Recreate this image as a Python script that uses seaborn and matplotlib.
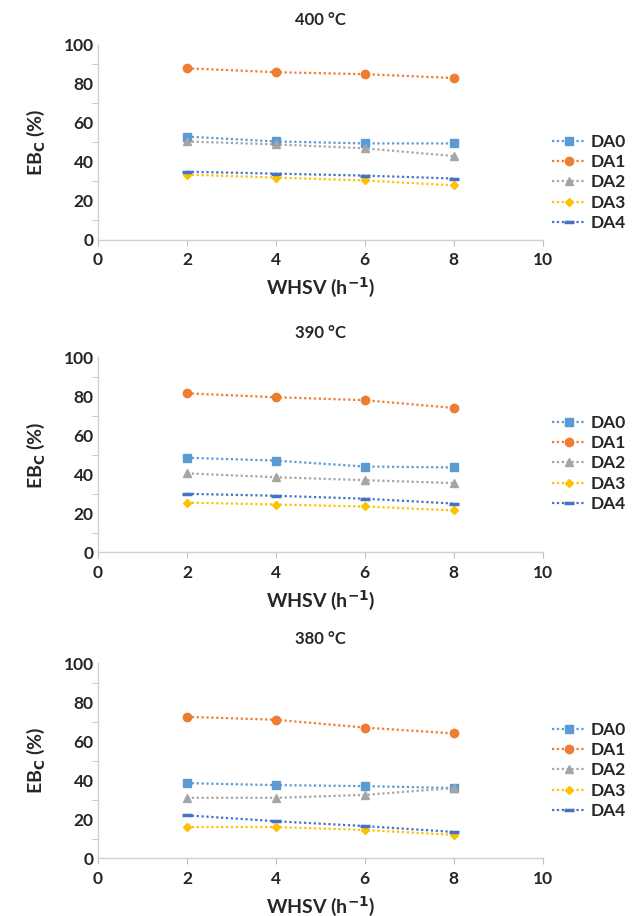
import matplotlib
matplotlib.use("Agg")
import matplotlib.pyplot as plt
import seaborn as sns
import pandas as pd
from matplotlib.ticker import MultipleLocator

# data
whsv = [2, 4, 6, 8]
series = ["DA0", "DA1", "DA2", "DA3", "DA4"]
titles = ["400 °C", "390 °C", "380 °C"]

eb_400 = {
    "DA0": [53, 50.5, 49.5, 49.5],
    "DA1": [88, 86, 85, 83],
    "DA2": [50.5, 49, 47, 43],
    "DA3": [33.5, 32, 30.5, 28],
    "DA4": [35, 34, 33, 31.5],
}
eb_390 = {
    "DA0": [48.5, 47, 44, 43.5],
    "DA1": [81.5, 79.5, 78, 74],
    "DA2": [40.5, 38.5, 37, 35.5],
    "DA3": [25.5, 24.5, 23.5, 21.5],
    "DA4": [30, 29, 27.5, 25],
}
eb_380 = {
    "DA0": [38.5, 37.5, 37, 36],
    "DA1": [72.5, 71, 67, 64],
    "DA2": [31, 31, 32.5, 36],
    "DA3": [16, 16, 14.5, 12],
    "DA4": [22, 19, 16.5, 13.5],
}

colors = {"DA0": "#5B9BD5", "DA1": "#ED7D31", "DA2": "#A5A5A5",
          "DA3": "#FFC000", "DA4": "#4472C4"}
markers = {"DA0": "s", "DA1": "o", "DA2": "^", "DA3": "D", "DA4": "_"}
msizes = {"DA0": 6, "DA1": 6, "DA2": 6, "DA3": 4, "DA4": 7}

sns.set_style("white")
plt.rcParams["font.family"] = ["Lato", "DejaVu Sans"]
plt.rcParams["font.weight"] = "bold"

fig = plt.figure(figsize=(6.4, 9.16), dpi=100)

# axes boxes [left, bottom, width, height] in figure fraction
boxes = [[0.153, 0.738, 0.695, 0.213],
         [0.153, 0.397, 0.695, 0.213],
         [0.153, 0.063, 0.695, 0.213]]
legend_y = [0.801, 0.494, 0.159]

for box, title, data, ly in zip(boxes, titles, [eb_400, eb_390, eb_380], legend_y):
    ax = fig.add_axes(box)
    df = pd.DataFrame({"WHSV": whsv * len(series),
                       "EB": sum([data[s] for s in series], []),
                       "series": sum([[s] * len(whsv) for s in series], [])})
    for s in series:
        sub = df[df["series"] == s]
        mew = 2.5 if s == "DA4" else 1
        sns.lineplot(data=sub, x="WHSV", y="EB", ax=ax, color=colors[s],
                     marker=markers[s], markersize=msizes[s], markeredgewidth=mew,
                     markeredgecolor=colors[s], linestyle=(0, (1, 1.2)),
                     linewidth=1.6, label=s)
    ax.set_xlim(0, 10)
    ax.set_ylim(0, 100)
    ax.xaxis.set_major_locator(MultipleLocator(2))
    ax.yaxis.set_major_locator(MultipleLocator(20))
    ax.yaxis.set_minor_locator(MultipleLocator(10))
    for side in ["top", "right"]:
        ax.spines[side].set_visible(False)
    for side in ["left", "bottom"]:
        ax.spines[side].set_color("#D0D0D0")
        ax.spines[side].set_linewidth(1.0)
    ax.tick_params(axis="x", which="major", direction="out", length=4,
                   color="#BFBFBF", labelsize=12.5, pad=5)
    ax.tick_params(axis="y", which="both", direction="out", length=4,
                   color="#BFBFBF", labelsize=12.5, pad=3)
    ax.tick_params(axis="y", which="major", length=0)
    ax.tick_params(axis="y", which="minor", left=True, length=4)
    ax.tick_params(axis="x", bottom=True)
    for lab in ax.get_xticklabels() + ax.get_yticklabels():
        lab.set_fontweight("bold")
    ax.set_title(title, fontsize=12, fontweight="bold", pad=14)
    ax.set_xlabel("WHSV (h$^{\\mathbf{-1}}$)", fontsize=14, fontweight="bold", labelpad=5)
    ax.set_ylabel("EB$_{\\mathbf{C}}$ (%)", fontsize=14, fontweight="bold", labelpad=12)
    leg = ax.legend(loc="center left", bbox_to_anchor=(0.862, ly),
                    bbox_transform=fig.transFigure, frameon=False,
                    fontsize=12.5, handlelength=2.0, labelspacing=0.25,
                    handletextpad=0.25, borderpad=0, borderaxespad=0)
    for t in leg.get_texts():
        t.set_fontweight("bold")

fig.savefig("out.png", dpi=100)
